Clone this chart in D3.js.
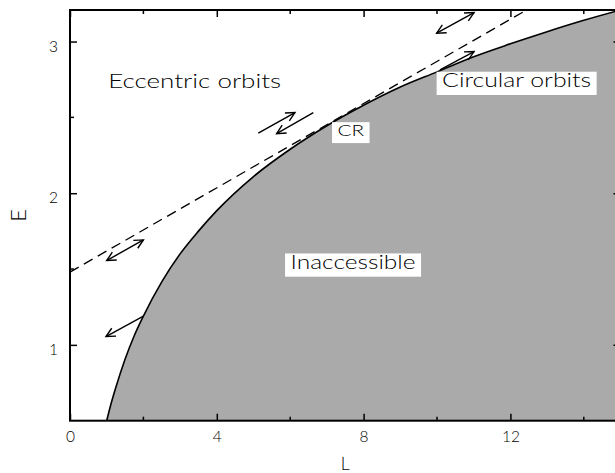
<!DOCTYPE html>
<html lang="en">
<head>
  <meta charset="UTF-8">
  <title>Orbit energy vs angular momentum</title>
  <script src="https://d3js.org/d3.v7.min.js"></script>
  <style>
    body { margin: 0; background: #fff; }
    svg { display: block; }
    text { font-family: Lato, "DejaVu Sans", sans-serif; font-weight: 300; fill: #000; }
  </style>
</head>
<body>
  <div id="chart"></div>
  <script>
    // circular-orbit curve (boundary of inaccessible region)
    const curveL = [1.0, 1.1, 1.25, 1.5, 1.75, 2, 2.5, 3, 3.5, 4, 5, 6, 7, 8, 9, 10, 11, 12, 13, 14, 15];
    const curveE = [0.50, 0.595, 0.72, 0.905, 1.06, 1.19, 1.415, 1.60, 1.75, 1.885, 2.11, 2.29, 2.445, 2.58, 2.70, 2.80, 2.90, 2.985, 3.065, 3.14, 3.208];

    // dashed tangent line through corotation
    const dashL = [0, 12.44];
    const dashE = [1.48, 3.208];

    // arrows (start -> end), some with heads on both ends
    const arrowFrom = [[2.0, 1.19], [1.0, 1.556], [5.13, 2.396], [6.63, 2.532], [9.99, 3.055], [10.08, 2.813]];
    const arrowTo   = [[0.98, 1.055], [2.0, 1.692], [6.13, 2.532], [5.63, 2.393], [11.01, 3.191], [11.01, 2.934]];
    const arrowBoth = [false, true, false, false, true, false];

    // annotations
    const labelText = ["Eccentric orbits", "Circular orbits", "CR", "Inaccessible"];
    const labelL = [1.04, 10.14, 7.29, 6.01];
    const labelE = [2.695, 2.697, 2.380, 1.499];
    const labelBoxed = [false, true, true, true];

    // axis ticks
    const xMajor = [0, 4, 8, 12];
    const xMinor = [2, 6, 10, 14];
    const yMajor = [1, 2, 3];
    const yMinor = [1.5, 2.5];
    const xDomain = [0, 15];
    const yDomain = [0.5, 3.208];

    const width = 615, height = 473;
    const mLeft = 70, mRight = 620.5, mTop = 10, mBottom = 420.7;

    // label text styling (size, stretched width)
    const labelStyle = {
      "Eccentric orbits": { fs: 19.8, w: 173 },
      "Circular orbits": { fs: 19.8, w: 149 },
      "CR": { fs: 16.5, w: 26.5 },
      "Inaccessible": { fs: 19.8, w: 125 }
    };

    const svg = d3.select("#chart").append("svg")
      .attr("width", width)
      .attr("height", height);

    const x = d3.scaleLinear().domain(xDomain).range([mLeft, mRight]);
    const y = d3.scaleLinear().domain(yDomain).range([mBottom, mTop]);

    const pts = curveL.map((l, i) => [l, curveE[i]]);

    // shaded inaccessible region
    svg.append("path")
      .datum(pts)
      .attr("fill", "#aaaaaa")
      .attr("d", d3.area().x(d => x(d[0])).y0(y(yDomain[0])).y1(d => y(d[1])).curve(d3.curveMonotoneX));

    svg.append("path")
      .datum(pts)
      .attr("fill", "none")
      .attr("stroke", "#000")
      .attr("stroke-width", 1.6)
      .attr("d", d3.line().x(d => x(d[0])).y(d => y(d[1])).curve(d3.curveMonotoneX));

    // dashed line
    svg.append("line")
      .attr("x1", x(dashL[0])).attr("y1", y(dashE[0]))
      .attr("x2", x(dashL[1])).attr("y2", y(dashE[1]))
      .attr("stroke", "#000")
      .attr("stroke-width", 1.3)
      .attr("stroke-dasharray", "10,6");

    // arrows
    svg.append("defs").append("marker")
      .attr("id", "head")
      .attr("viewBox", "-11 -6 13 12")
      .attr("refX", 0).attr("refY", 0)
      .attr("markerWidth", 13).attr("markerHeight", 12)
      .attr("markerUnits", "userSpaceOnUse")
      .attr("orient", "auto-start-reverse")
      .append("path")
      .attr("d", "M-9,-4.5L0,0L-9,4.5")
      .attr("fill", "none")
      .attr("stroke", "#000")
      .attr("stroke-width", 1.4);

    svg.append("g").selectAll("line")
      .data(arrowFrom.map((f, i) => ({ f, t: arrowTo[i], both: arrowBoth[i] })))
      .join("line")
      .attr("x1", d => x(d.f[0])).attr("y1", d => y(d.f[1]))
      .attr("x2", d => x(d.t[0])).attr("y2", d => y(d.t[1]))
      .attr("stroke", "#000")
      .attr("stroke-width", 1.4)
      .attr("marker-end", "url(#head)")
      .attr("marker-start", d => d.both ? "url(#head)" : null);

    // labels
    const labels = svg.append("g").selectAll("g")
      .data(labelText.map((t, i) => ({ t, l: labelL[i], e: labelE[i], boxed: labelBoxed[i] })))
      .join("g");

    labels.each(function(d) {
      const g = d3.select(this);
      const st = labelStyle[d.t];
      g.append("text")
        .attr("x", x(d.l))
        .attr("y", y(d.e))
        .attr("font-size", st.fs)
        .attr("textLength", st.w)
        .attr("lengthAdjust", "spacingAndGlyphs")
        .text(d.t);
      if (d.boxed) {
        const capH = st.fs * 0.72;
        g.insert("rect", "text")
          .attr("x", x(d.l) - 5.5)
          .attr("y", y(d.e) - capH - 1.5)
          .attr("width", st.w + 11)
          .attr("height", capH + 9)
          .attr("fill", "#fff");
      }
    });

    // axes: ticks pointing inward on all four sides
    const bottomAxis = svg.append("g")
      .attr("transform", `translate(0,${mBottom})`)
      .call(d3.axisBottom(x).tickValues(xMajor).tickSize(-7).tickPadding(10).tickFormat(d3.format("d")));
    bottomAxis.append("g").selectAll("line").data(xMinor).join("line")
      .attr("x1", d => x(d)).attr("x2", d => x(d)).attr("y1", 0).attr("y2", -4);

    const topAxis = svg.append("g")
      .attr("transform", `translate(0,${mTop})`)
      .call(d3.axisTop(x).tickValues(xMajor).tickSize(-7).tickFormat(""));
    topAxis.append("g").selectAll("line").data(xMinor).join("line")
      .attr("x1", d => x(d)).attr("x2", d => x(d)).attr("y1", 0).attr("y2", 4);

    const leftAxis = svg.append("g")
      .attr("transform", `translate(${mLeft},0)`)
      .call(d3.axisLeft(y).tickValues(yMajor).tickSize(-7).tickPadding(12).tickFormat(d3.format("d")));
    leftAxis.append("g").selectAll("line").data(yMinor).join("line")
      .attr("y1", d => y(d)).attr("y2", d => y(d)).attr("x1", 0).attr("x2", 4);

    const rightAxis = svg.append("g")
      .attr("transform", `translate(${mRight},0)`)
      .call(d3.axisRight(y).tickValues(yMajor).tickSize(-7).tickFormat(""));
    rightAxis.append("g").selectAll("line").data(yMinor).join("line")
      .attr("y1", d => y(d)).attr("y2", d => y(d)).attr("x1", 0).attr("x2", -4);

    svg.selectAll(".domain").remove();
    [bottomAxis, topAxis, leftAxis, rightAxis].forEach(a =>
      a.selectAll("line").attr("stroke", "#000").attr("stroke-width", 1.5));
    svg.selectAll(".tick text")
      .attr("font-family", "Lato, 'DejaVu Sans', sans-serif")
      .attr("font-weight", 300)
      .attr("font-size", 15.5)
      .attr("fill", "#000");
    leftAxis.selectAll(".tick text").attr("dy", "0.62em");

    // frame
    svg.append("rect")
      .attr("x", mLeft).attr("y", mTop)
      .attr("width", mRight - mLeft).attr("height", mBottom - mTop)
      .attr("fill", "none")
      .attr("stroke", "#000")
      .attr("stroke-width", 2);

    // axis titles
    svg.append("text")
      .attr("x", (mLeft + mRight) / 2)
      .attr("y", 469.5)
      .attr("text-anchor", "middle")
      .attr("font-size", 17.5)
      .text("L");

    svg.append("text")
      .attr("transform", `translate(26,${(mTop + mBottom) / 2}) rotate(-90)`)
      .attr("text-anchor", "middle")
      .attr("font-size", 22)
      .text("E");
  </script>
</body>
</html>
